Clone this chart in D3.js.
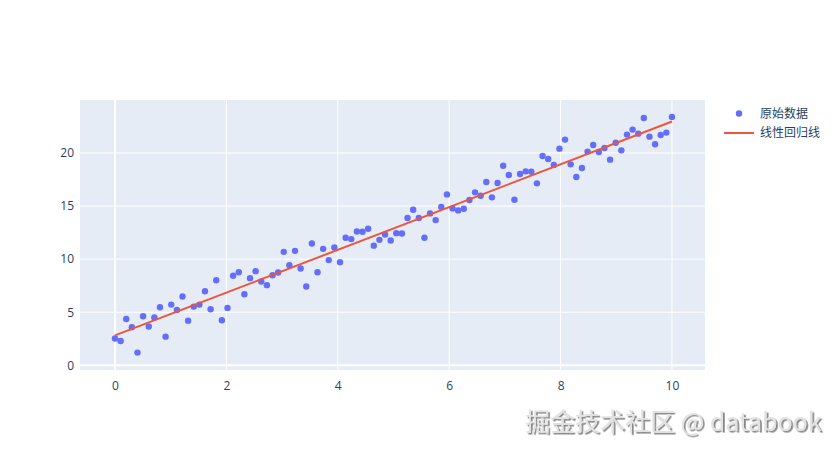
<!DOCTYPE html>
<html><head><meta charset="utf-8">
<script src="https://cdn.jsdelivr.net/npm/d3@7"></script>
<style>body{margin:0;background:#fff}svg{display:block}</style>
</head><body>
<svg id="c" width="839" height="450"></svg>
<script>
// Data
const pointCount = 100; // x = evenly spaced 0..10
const yValues = [
 2.52,2.29,4.37,3.58,1.20,4.62,3.65,4.50,5.47,2.70,
 5.72,5.22,6.48,4.21,5.53,5.72,6.98,5.28,8.02,4.25,
 5.41,8.43,8.77,6.70,8.21,8.87,7.90,7.55,8.49,8.74,
 10.69,9.43,10.78,9.12,7.42,11.48,8.77,10.97,9.91,11.10,
 9.72,12.01,11.89,12.61,12.58,12.86,11.27,11.82,12.32,11.76,
 12.45,12.42,13.87,14.65,13.87,12.01,14.31,13.68,14.91,16.10,
 14.78,14.59,14.75,15.57,16.29,15.97,17.26,15.82,17.17,18.80,
 17.92,15.59,18.02,18.27,18.24,17.14,19.72,19.43,18.87,20.41,
 21.26,18.93,17.74,18.58,20.13,20.75,20.09,20.47,19.37,20.97,
 20.25,21.73,22.20,21.82,23.30,21.54,20.82,21.70,21.92,23.40
];
const xValues = yValues.map((_, i) => i * 10 / (pointCount - 1));
const lineX = [0, 10];
const lineY = [2.82, 22.96];
const xTicks = [0, 2, 4, 6, 8, 10];
const yTicks = [0, 5, 10, 15, 20];
const legendLabels = ["原始数据", "线性回归线"];
const watermark = "掘金技术社区 @ databook";

const svg = d3.select("#c");
const L = 80, R = 705, T = 100, B = 370;
const x = d3.scaleLinear().domain([-0.628, 10.593]).range([L, R]);
const y = d3.scaleLinear().domain([-0.44, 24.99]).range([B, T]);
const font = "'Open Sans', 'Noto Sans', sans-serif";
const tickColor = "#2a3f5f";

const defs = svg.append("defs");
const f = defs.append("filter").attr("id", "wmShadow").attr("x", "-5%").attr("y", "-30%").attr("width", "110%").attr("height", "160%");
f.append("feDropShadow").attr("dx", 1.8).attr("dy", 1.6).attr("stdDeviation", 0.6)
  .attr("flood-color", "#444").attr("flood-opacity", 0.65);

svg.append("rect").attr("x", L).attr("y", T).attr("width", R - L).attr("height", B - T).attr("fill", "#E5ECF6");

const g = svg.append("g");
g.selectAll(".gx").data(xTicks.filter(d => d !== 0)).join("line")
  .attr("x1", d => x(d)).attr("x2", d => x(d)).attr("y1", T).attr("y2", B)
  .attr("stroke", "#fff").attr("stroke-width", 1);
g.selectAll(".gy").data(yTicks.filter(d => d !== 0)).join("line")
  .attr("y1", d => y(d)).attr("y2", d => y(d)).attr("x1", L).attr("x2", R)
  .attr("stroke", "#fff").attr("stroke-width", 1);
// zero lines
g.append("line").attr("x1", x(0)).attr("x2", x(0)).attr("y1", T).attr("y2", B).attr("stroke", "#fff").attr("stroke-width", 2);
g.append("line").attr("y1", y(0)).attr("y2", y(0)).attr("x1", L).attr("x2", R).attr("stroke", "#fff").attr("stroke-width", 2);

// axes
const xAxis = d3.axisBottom(x).tickValues(xTicks).tickSize(0).tickPadding(11).tickFormat(d3.format("d"));
const gxA = svg.append("g").attr("transform", `translate(0,${B})`).call(xAxis);
const yAxis = d3.axisLeft(y).tickValues(yTicks).tickSize(0).tickPadding(6).tickFormat(d3.format("d"));
const gyA = svg.append("g").attr("transform", `translate(${L},0)`).call(yAxis);
[gxA, gyA].forEach(a => {
  a.select(".domain").remove();
  a.selectAll("text").attr("fill", tickColor).style("font-family", font).style("font-size", "12px");
});

// clip
svg.append("clipPath").attr("id", "clip").append("rect").attr("x", L).attr("y", T).attr("width", R - L).attr("height", B - T);
const plot = svg.append("g").attr("clip-path", "url(#clip)");

plot.selectAll("circle").data(xValues.map((xv, i) => [xv, yValues[i]])).join("circle")
  .attr("cx", d => x(d[0])).attr("cy", d => y(d[1])).attr("r", 3.2).attr("fill", "#636efa");

plot.append("path").datum(lineX.map((xv, i) => [xv, lineY[i]]))
  .attr("d", d3.line().x(d => x(d[0])).y(d => y(d[1])))
  .attr("fill", "none").attr("stroke", "#EF553B").attr("stroke-width", 2);

// legend
const lg = svg.append("g");
lg.append("circle").attr("cx", 739).attr("cy", 113.5).attr("r", 3.2).attr("fill", "#636efa");
lg.append("line").attr("x1", 724).attr("x2", 754).attr("y1", 133).attr("y2", 133).attr("stroke", "#EF553B").attr("stroke-width", 2);
lg.selectAll("text").data(legendLabels).join("text")
  .attr("x", 760).attr("y", (d, i) => 113.5 + i * 19.5).attr("dy", "0.35em")
  .attr("fill", tickColor).style("font-family", "'Noto Sans CJK SC', sans-serif").style("font-size", "12px")
  .text(d => d);

// watermark (single text with drop shadow)
svg.append("text").attr("x", 525).attr("y", 431).attr("fill", "#e2e2e2")
  .attr("filter", "url(#wmShadow)")
  .style("font-family", "'Noto Sans CJK SC', sans-serif").style("font-size", "25px").text(watermark);
</script>
</body></html>
